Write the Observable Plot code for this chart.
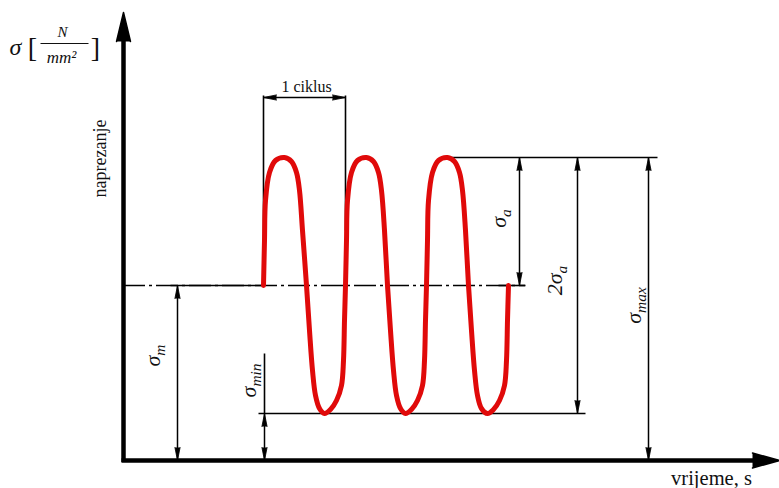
<!DOCTYPE html>
<html><head><meta charset="utf-8">
<script src="https://cdn.jsdelivr.net/npm/d3@7"></script>
<script src="https://cdn.jsdelivr.net/npm/@observablehq/plot@0.6"></script>
<style>body{margin:0;background:#fff;} svg{display:block;background:#fff} svg text{font-family:'Liberation Serif','Times New Roman',serif !important}</style>
</head><body><div id="chart"></div>
<script>
// ---- data (time: arbitrary units, stress: N/mm²) ----
const time = [14.0,14.1,14.2,14.6,15.2,16.1,16.8,17.3,17.6,17.9,18.3,18.6,18.9,19.2,19.6,20.1,20.7,21.3,21.8,22.0,22.1,
  22.2,22.3,22.4,22.8,23.4,24.3,25.0,25.5,25.8,26.1,26.4,26.7,27.0,27.3,27.7,28.2,28.8,29.4,29.9,30.1,30.2,
  30.3,30.4,30.5,30.9,31.5,32.4,33.1,33.6,33.9,34.2,34.5,34.8,35.1,35.4,35.8,36.4,37.0,37.6,38.1,38.3,38.4,38.5];
const stress = [175,220,260,288,300,303,299,288,270,230,175,130,90,65,52,47,51,60,75,100,140,
  175,220,260,288,300,303,299,288,270,230,175,130,90,65,52,47,51,60,75,100,140,
  175,220,260,288,300,303,299,288,270,230,175,130,90,65,52,47,51,60,75,100,140,175];

const sigmaM = 175;            // mean stress
const sigmaA = 128;            // stress amplitude
const sigmaMax = sigmaM + sigmaA;
const sigmaMin = sigmaM - sigmaA;
const cycleStart = 14.0, cycleEnd = 22.2, cycleLevel = 363, cycleTop = 365;
const axisTop = 448, axisRight = 65.6;

// dimension lines
const dimNames = ["σ_m", "σ_min", "σ_a", "2σ_a", "σ_max"];
const dimT     = [5.4, 14.1, 39.6, 45.4, 52.5];
const dimFrom  = [0, 0, sigmaM, sigmaMin, 0];
const dimTo    = [sigmaM, sigmaMin, sigmaMax, sigmaMax, sigmaMax];
const dimLabelT = [2.9, 12.5, 37.5, 43.1, 51.0];
const dimLabelS = [105, 80, 242, 180, 155];

// texts
const axisTitleY = "naprezanje", axisTitleX = "vrijeme, s", cycleLabel = "1 ciklus";

// ---- build tables ----
const curve = time.map((t, i) => ({t, s: stress[i]}));
const dims = dimNames.map((n, i) => ({n, t: dimT[i], from: dimFrom[i], to: dimTo[i], lt: dimLabelT[i], ls: dimLabelS[i]}));
const heads = [];
dims.forEach(d => { heads.push({t: d.t, s: d.to, rot: 0}); heads.push({t: d.t, s: d.from, rot: 180}); });
heads.push({t: cycleStart, s: cycleLevel, rot: -90}, {t: cycleEnd, s: cycleLevel, rot: 90});

const hLines = [
  {t1: 32.4, t2: 53.4, s: sigmaMax},
  {t1: 13.5, t2: 46.2, s: sigmaMin},
  {t1: 37.5, t2: 40.2, s: sigmaM},
  {t1: 4.7, t2: cycleStart, s: sigmaM}
];
const vLines = [
  {t: cycleStart, s1: sigmaM, s2: cycleTop},
  {t: cycleEnd, s1: 230, s2: cycleTop},
  {t: 14.1, s1: sigmaMin, s2: 107}
];
const serif = "'Liberation Serif', 'DejaVu Serif', serif";

const plot = Plot.plot({
  width: 779, height: 488,
  marginTop: 0, marginRight: 0, marginBottom: 0, marginLeft: 0,
  style: {fontFamily: serif},
  x: {domain: [-12.3, 65.6], axis: null},
  y: {domain: [-28, 460], axis: null},
  marks: [
    // mean line (dash-dot)
    Plot.ruleY([sigmaM], {x1: 0, x2: 40.2, stroke: "#000", strokeWidth: 1.3, strokeDasharray: "22,4,3,4"}),
    Plot.link(hLines, {x1: "t1", x2: "t2", y1: "s", y2: "s", stroke: "#000", strokeWidth: 1.6}),
    Plot.link(vLines, {x1: "t", x2: "t", y1: "s1", y2: "s2", stroke: "#000", strokeWidth: 1.6}),
    Plot.link(dims, {x1: "t", x2: "t", y1: "from", y2: "to", stroke: "#000", strokeWidth: 1.5}),
    Plot.link([{a: cycleStart, b: cycleEnd}], {x1: "a", x2: "b", y1: cycleLevel, y2: cycleLevel, stroke: "#000", strokeWidth: 1.5}),
    Plot.vector(heads, {x: "t", y: "s", rotate: "rot", length: 13, r: 2.6, anchor: "end", shape: "spike",
      fill: "#000", fillOpacity: 1, stroke: "#000", strokeWidth: 0.8}),
    // axes
    Plot.link([{a: 0}], {x1: "a", x2: "a", y1: -1.5, y2: axisTop - 20, stroke: "#000", strokeWidth: 4.5}),
    Plot.link([{a: 0}], {x1: -0.2, x2: axisRight - 2.2, y1: "a", y2: "a", stroke: "#000", strokeWidth: 4.5}),
    Plot.vector([{t: 0, s: axisTop}], {x: "t", y: "s", rotate: 0, length: 29, r: 7, anchor: "end", shape: "spike", fill: "#000", fillOpacity: 1, stroke: "#000"}),
    Plot.vector([{t: axisRight, s: 0}], {x: "t", y: "s", rotate: 90, length: 27, r: 7.5, anchor: "end", shape: "spike", fill: "#000", fillOpacity: 1, stroke: "#000"}),
    // stress curve
    Plot.line(curve, {x: "t", y: "s", stroke: "#e00a0a", strokeWidth: 5, curve: "catmull-rom", strokeLinecap: "round"}),
    // dimension labels
    Plot.text(dims, {x: "lt", y: "ls", text: "n", rotate: -90, fontSize: 22, fontStyle: "italic", fontFamily: serif, fill: "#111"}),
    // axis titles
    Plot.text([axisTitleY], {x: -2.3, y: 302, text: d => d, rotate: -90, fontSize: 18, fontFamily: serif, fill: "#111"}),
    Plot.text([axisTitleX], {x: 58.8, y: -18, text: d => d, fontSize: 20.5, fontFamily: serif, fill: "#111"}),
    Plot.text([cycleLabel], {x: 18.3, y: 374, text: d => d, fontSize: 16, fontFamily: serif, fill: "#111"}),
    // unit label  σ [N / mm²]
    Plot.text(["σ"], {x: -10.8, y: 413, text: d => d, fontSize: 24, fontStyle: "italic", fontFamily: serif, fill: "#111"}),
    Plot.text(["[", "]"], {x: [-9.1, -2.8], y: 412, text: d => d, fontSize: 28, fontFamily: serif, fill: "#111"}),
    Plot.text(["N"], {x: -6.1, y: 428, text: d => d, fontSize: 15, fontStyle: "italic", fontFamily: serif, fill: "#111"}),
    Plot.text(["mm²"], {x: -6.2, y: 403, text: d => d, fontSize: 17, fontStyle: "italic", fontFamily: serif, fill: "#111"}),
    Plot.link([{a: 0}], {x1: -8.3, x2: -3.5, y1: 417, y2: 417, stroke: "#111", strokeWidth: 1})
  ]
});

// subscripts and font
plot.querySelectorAll("text").forEach(el => {
  el.style.fontFamily = serif;
  const s = el.textContent;
  if (s.includes("_")) {
    const [base, sub] = s.split("_");
    el.textContent = base;
    const ts = document.createElementNS("http://www.w3.org/2000/svg", "tspan");
    ts.setAttribute("font-size", "0.7em");
    ts.setAttribute("dy", "0.35em");
    ts.textContent = sub;
    el.appendChild(ts);
  }
});
document.getElementById("chart").appendChild(plot);
</script>
</body></html>
